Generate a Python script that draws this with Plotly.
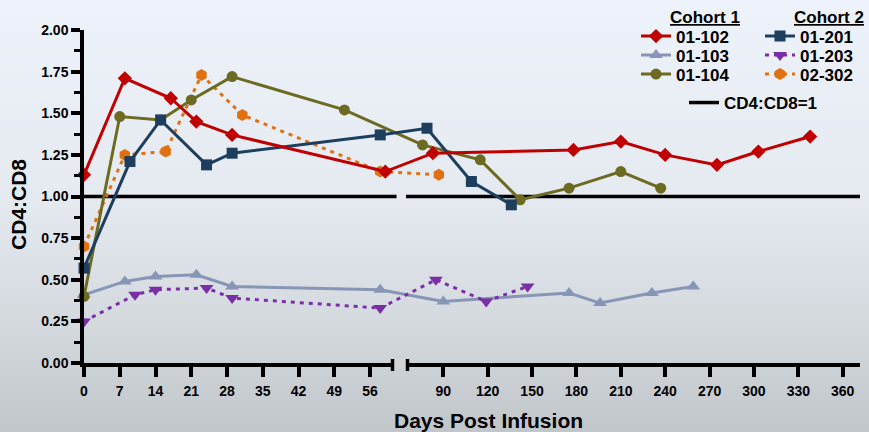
import plotly.graph_objects as go

# ---------------- data ----------------
days_01_102 = [0, 8, 17, 22, 29, 59, 83, 178, 210, 240, 275, 303, 338]
ratio_01_102 = [1.13, 1.71, 1.59, 1.45, 1.37, 1.15, 1.26, 1.28, 1.33, 1.25, 1.19, 1.27, 1.36]

days_01_103 = [0, 8, 14, 22, 29, 58, 90, 175, 196, 231, 259]
ratio_01_103 = [0.41, 0.49, 0.52, 0.53, 0.46, 0.44, 0.37, 0.42, 0.36, 0.42, 0.46]

days_01_104 = [0, 7, 15, 21, 29, 51, 76, 115, 142, 175, 210, 237]
ratio_01_104 = [0.40, 1.48, 1.46, 1.58, 1.72, 1.52, 1.31, 1.22, 0.98, 1.05, 1.15, 1.05]

days_01_201 = [0, 9, 15, 24, 29, 58, 79, 109, 136]
ratio_01_201 = [0.57, 1.21, 1.46, 1.19, 1.26, 1.37, 1.41, 1.09, 0.95]

days_01_203 = [0, 10, 14, 24, 29, 58, 85, 119, 147]
ratio_01_203 = [0.25, 0.41, 0.44, 0.45, 0.39, 0.33, 0.50, 0.37, 0.46]

days_02_302 = [0, 8, 16, 23, 31, 58, 87]
ratio_02_302 = [0.70, 1.25, 1.27, 1.73, 1.49, 1.15, 1.13]

left_ticks = [0, 7, 14, 21, 28, 35, 42, 49, 56]
right_ticks = [90, 120, 150, 180, 210, 240, 270, 300, 330, 360]
y_ticks = [0, 0.25, 0.5, 0.75, 1.0, 1.25, 1.5, 1.75, 2.0]
reference_ratio = 1.0
reference_days_left = [0, 61.2]
reference_days_right = [64.8, 371.7]

# ---------------- layout geometry ----------------
W, H = 869, 432
ML, MR, MT, MB = 84, 9, 30, 69
PW = W - ML - MR
PH = H - MT - MB
LEFT_RANGE = (0, 60.7)
LEFT_PX = (84, 394)
RIGHT_RANGE = (64.8, 371.7)
RIGHT_PX = (406, 860)
FONT = "Liberation Sans, Arial, sans-serif"


def broken_scale(d):
    """Map days onto the broken axis (pixel units of the data axis)."""
    if d is None:
        return None
    if d <= 62:
        r, p = LEFT_RANGE, LEFT_PX
    else:
        r, p = RIGHT_RANGE, RIGHT_PX
    return p[0] + (d - r[0]) * (p[1] - p[0]) / (r[1] - r[0])


def paper_x(px):
    return (px - ML) / PW


def paper_y(py):
    return (H - MB - py) / PH


fig = go.Figure()

# background gradient
stops = [(0, (238, 243, 251)), (200, (229, 234, 241)), (330, (211, 216, 221)), (432, (193, 198, 203))]


def grad(py):
    for (a, ca), (b, cb) in zip(stops[:-1], stops[1:]):
        if a <= py <= b:
            t = (py - a) / (b - a)
            return tuple(round(ca[i] + t * (cb[i] - ca[i])) for i in range(3))
    return stops[-1][1]


N = 108
shapes = []
for i in range(N):
    y0 = i * H / N
    y1 = (i + 1) * H / N + 0.6
    c = grad((y0 + y1) / 2)
    shapes.append(dict(type="rect", xref="paper", yref="paper", layer="below",
                       x0=paper_x(-2), x1=paper_x(W + 2), y0=paper_y(y1), y1=paper_y(y0),
                       line=dict(width=0), fillcolor="rgb(%d,%d,%d)" % c))

# axis break marks
for bx in (LEFT_PX[1] - 1.5, RIGHT_PX[0] + 1.5):
    shapes.append(dict(type="line", xref="paper", yref="paper",
                       x0=paper_x(bx), x1=paper_x(bx), y0=paper_y(359), y1=paper_y(371),
                       line=dict(color="black", width=3.5)))

# invisible anchors so that the two visible x-axis segments get drawn
fig.add_trace(go.Scatter(x=[], y=[], xaxis="x2", yaxis="y", showlegend=False, hoverinfo="skip"))
fig.add_trace(go.Scatter(x=[], y=[], xaxis="x3", yaxis="y", showlegend=False, hoverinfo="skip"))

# reference line CD4:CD8 = 1
ref_x = [broken_scale(d) for d in reference_days_left] + [None] + [broken_scale(d) for d in reference_days_right]
ref_y = [reference_ratio] * 2 + [None] + [reference_ratio] * 2
fig.add_trace(go.Scatter(x=ref_x, y=ref_y, mode="lines", name="CD4:CD8=1",
                         line=dict(color="black", width=3.5), legend="legend7",
                         xaxis="x", yaxis="y", hoverinfo="skip"))

series = [
    ("01-103", days_01_103, ratio_01_103, "#8796b6", "triangle-up", 12, "solid", "legend2"),
    ("01-203", days_01_203, ratio_01_203, "#7a2fa6", "triangle-down", 12, "4px,5px", "legend5"),
    ("02-302", days_02_302, ratio_02_302, "#e07010", "hexagon", 12, "4px,5px", "legend6"),
    ("01-104", days_01_104, ratio_01_104, "#6d6a22", "circle", 11, "solid", "legend3"),
    ("01-201", days_01_201, ratio_01_201, "#1e3e5e", "square", 11, "solid", "legend4"),
    ("01-102", days_01_102, ratio_01_102, "#c00000", "diamond", 11, "solid", "legend"),
]
for name, d, r, col, sym, size, dash, leg in series:
    fig.add_trace(go.Scatter(
        x=[broken_scale(v) for v in d], y=r, mode="lines+markers", name=name,
        line=dict(color=col, width=3, dash=dash),
        marker=dict(symbol=sym, size=size, color=col),
        cliponaxis=False, legend=leg, xaxis="x", yaxis="y"))

legfont = dict(family=FONT, size=17, color="black", weight="bold")


def legend_at(px, py):
    return dict(x=paper_x(px), y=paper_y(py), xanchor="left", yanchor="middle",
                bgcolor="rgba(0,0,0,0)", borderwidth=0, font=legfont)


rows = [36.5, 55.5, 74.5]
C1X, C2X = 636, 760

tickfont = dict(family=FONT, size=14, color="black", weight="bold")
fig.update_layout(
    width=W, height=H,
    margin=dict(l=ML, r=MR, t=MT, b=MB, autoexpand=False),
    paper_bgcolor="rgb(220,225,231)",
    plot_bgcolor="rgba(0,0,0,0)",
    showlegend=True,
    shapes=shapes,
    legend=legend_at(C1X, rows[0]),
    legend2=legend_at(C1X, rows[1]),
    legend3=legend_at(C1X, rows[2]),
    legend4=legend_at(C2X, rows[0]),
    legend5=legend_at(C2X, rows[1]),
    legend6=legend_at(C2X, rows[2]),
    legend7=legend_at(684, 103),
    xaxis=dict(domain=[0, 1], range=[ML, W - MR], visible=False, fixedrange=True,
               showgrid=False, zeroline=False),
    xaxis2=dict(domain=[paper_x(LEFT_PX[0]), paper_x(LEFT_PX[1])], range=list(LEFT_RANGE),
                anchor="y", tickvals=left_ticks, ticktext=[str(t) for t in left_ticks],
                showline=True, linewidth=3.5, linecolor="black",
                ticks="outside", ticklen=10, tickwidth=3.5, tickcolor="black",
                tickfont=tickfont, showgrid=False, zeroline=False, ticklabelstandoff=2),
    xaxis3=dict(domain=[paper_x(RIGHT_PX[0]), paper_x(RIGHT_PX[1])], range=list(RIGHT_RANGE),
                anchor="y", tickvals=right_ticks, ticktext=[str(t) for t in right_ticks],
                showline=True, linewidth=3.5, linecolor="black",
                ticks="outside", ticklen=10, tickwidth=3.5, tickcolor="black",
                tickfont=tickfont, showgrid=False, zeroline=False, ticklabelstandoff=2),
    yaxis=dict(domain=[0, 1], range=[0, 2], anchor="x", tickvals=y_ticks, tickformat=".2f",
               showline=True, linewidth=3.5, linecolor="black",
               ticks="outside", ticklen=9, tickwidth=3.5, tickcolor="black",
               minor=dict(tick0=0.125, dtick=0.25, ticks="outside", ticklen=6,
                          tickwidth=3, tickcolor="black"),
               tickfont=tickfont, showgrid=False, zeroline=False),
    annotations=[
        dict(text="<u>Cohort 1</u>", xref="paper", yref="paper", x=paper_x(705), y=paper_y(17),
             xanchor="center", yanchor="middle", showarrow=False, font=legfont),
        dict(text="<u>Cohort 2</u>", xref="paper", yref="paper", x=paper_x(829), y=paper_y(17),
             xanchor="center", yanchor="middle", showarrow=False, font=legfont),
        dict(text="Days Post Infusion", xref="paper", yref="paper", x=paper_x(488), y=paper_y(420),
             xanchor="center", yanchor="middle", showarrow=False,
             font=dict(family=FONT, size=21, color="black", weight="bold")),
        dict(text="CD4:CD8", xref="paper", yref="paper", x=paper_x(18), y=paper_y(205),
             xanchor="center", yanchor="middle", showarrow=False, textangle=-90,
             font=dict(family=FONT, size=21, color="black", weight="bold")),
    ],
)

fig.write_html("out.html", config={"displayModeBar": False},
               post_script="document.body.style.margin='0';document.body.style.overflow='hidden';")
